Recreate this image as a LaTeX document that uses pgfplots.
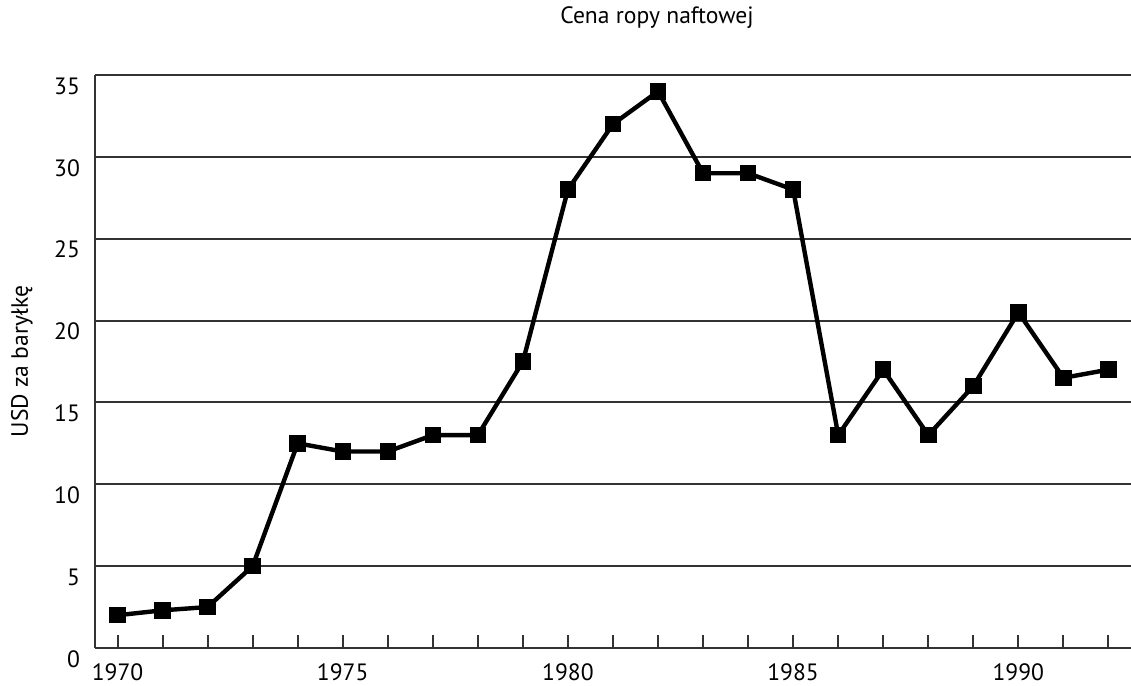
\documentclass[border=0pt]{standalone}
\usepackage{pgfplots}
\pgfplotsset{compat=1.18}
\usepackage{fontspec}
\setmainfont{PT Sans}

\definecolor{gridc}{HTML}{333333}
\newcommand{\chartfont}{\fontsize{11.8pt}{14pt}\selectfont}

\begin{document}
\begin{tikzpicture}
\begin{axis}[
    name=ax,
    scale only axis,
    width=518pt, height=286.5pt,
    xmin=1969.5, xmax=1992.5,
    ymin=0, ymax=35,
    axis lines*=left,
    axis line style={-, line width=1pt, color=gridc},
    xtick={1970,...,1992},
    xticklabels={1970,,,,,1975,,,,,1980,,,,,1985,,,,,1990,,},
    ytick={0,5,...,35},
    tick align=inside,
    major tick length=6.5pt,
    xtick style={line width=1pt, color=gridc},
    ytick style={draw=none},
    ymajorgrids,
    grid style={line width=1pt, color=gridc},
    /pgf/number format/assume math mode=true,
    /pgf/number format/1000 sep={},
    tick label style={font=\chartfont},
    xticklabel style={anchor=center, yshift=-12pt},
    yticklabel style={anchor=east, xshift=-4pt, yshift=-5.5pt},
    title={Cena ropy naftowej},
    title style={font=\chartfont, at={(axis description cs:0.5,1)}, anchor=center, xshift=22pt, yshift=22.5pt},
    ylabel={USD za baryłkę},
    every axis y label/.style={font=\chartfont, at={(axis description cs:0,0.5)}, xshift=-36.5pt, rotate=90, anchor=center},
]
\addplot[black, line width=2.2pt, mark=square*, mark size=3pt, mark options={solid}] coordinates {
    (1970,2.0)
    (1971,2.3)
    (1972,2.5)
    (1973,5.0)
    (1974,12.5)
    (1975,12.0)
    (1976,12.0)
    (1977,13.0)
    (1978,13.0)
    (1979,17.5)
    (1980,28.0)
    (1981,32.0)
    (1982,34.0)
    (1983,29.0)
    (1984,29.0)
    (1985,28.0)
    (1986,13.0)
    (1987,17.0)
    (1988,13.0)
    (1989,16.0)
    (1990,20.5)
    (1991,16.5)
    (1992,17.0)
};
\end{axis}
\pgfresetboundingbox
\path ([xshift=-47.5pt,yshift=-19pt]ax.south west) rectangle ([yshift=37.5pt]ax.north east);
\end{tikzpicture}
\end{document}
